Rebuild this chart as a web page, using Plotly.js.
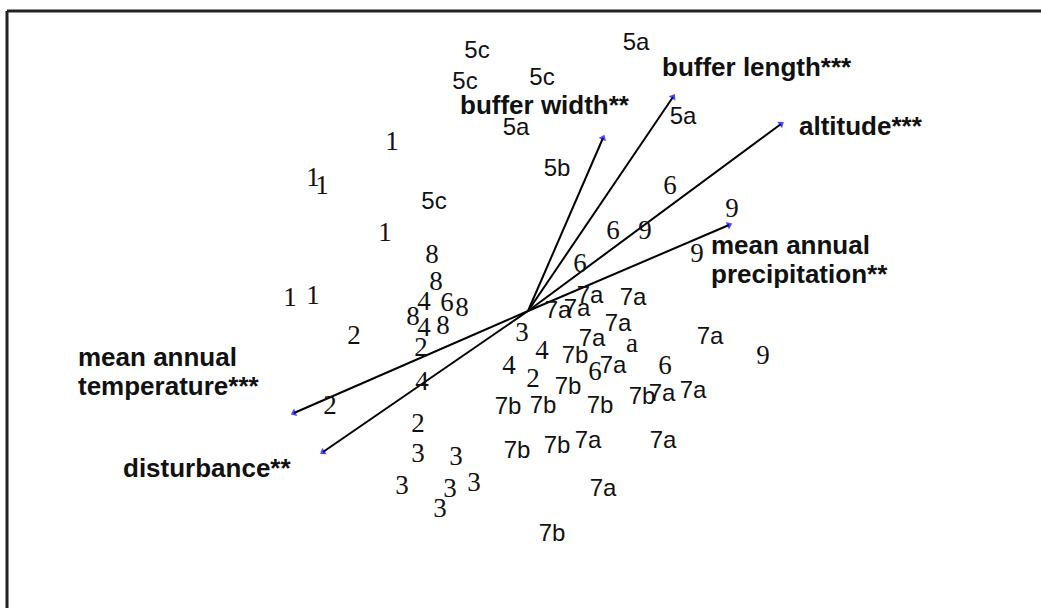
<!DOCTYPE html>
<html>
<head>
<meta charset="utf-8">
<script src="https://cdn.plot.ly/plotly-3.0.1.min.js"></script>
<style>html,body{margin:0;padding:0;background:#fff;}#chart{width:1041px;height:608px;}</style>
</head>
<body>
<div id="chart"></div>
<script>
// Site scores (ordination axes 1 and 2) with their group labels
const siteLabels = ["5c","5c","5c","5c","5a","5a","5a","5b",
  "1","1","1","1","1","1","2","8","8","4","6","8","8","4","8","2","4","2","2",
  "3","3","3","3","3","3","3","4","4","2","6","6","9","6","9","9","9","6","6","a",
  "7a","7a","7a","7a","7a","7a","7a","7a","7a","7a","7a","7a","7a",
  "7b","7b","7b","7b","7b","7b","7b","7b","7b"];
const siteX = [-0.51,-0.63,0.14,-0.94,1.08,-0.12,1.55,0.29,
  -1.36,-2.15,-2.06,-1.43,-2.38,-2.15,-1.74,-0.96,-0.92,-1.04,-0.81,-0.66,-1.15,-1.04,-0.85,-1.07,-1.06,-1.98,-1.10,
  -1.10,-0.72,-1.26,-0.78,-0.54,-0.88,-0.06,0.14,-0.19,0.05,0.52,0.85,1.17,1.42,2.04,1.69,2.35,0.67,1.37,1.04,
  0.62,1.05,0.30,0.49,0.90,0.64,1.82,0.85,1.34,1.65,0.60,1.35,0.75,
  0.47,0.40,-0.20,0.15,0.72,1.14,-0.11,0.29,0.24];
const siteY = [2.59,2.28,2.32,1.08,2.67,1.82,1.93,1.41,
  1.68,1.32,1.24,0.77,0.12,0.14,-0.26,0.55,0.28,0.08,0.07,0.02,-0.07,-0.18,-0.16,-0.38,-0.72,-0.96,-1.14,
  -1.44,-1.47,-1.76,-1.79,-1.73,-1.99,-0.23,-0.41,-0.56,-0.69,0.46,0.79,0.79,1.24,1.01,0.56,-0.46,-0.62,-0.56,-0.34,
  0.14,0.12,-0.01,0.01,-0.14,-0.29,-0.27,-0.56,-0.84,-0.81,-1.31,-1.31,-1.79,
  -0.46,-0.77,-0.97,-0.96,-0.96,-0.87,-1.41,-1.36,-2.24];

// Environmental vectors (arrow tips)
const varNames = ["buffer width**","buffer length***","altitude***",
  "mean annual<br>precipitation**","mean annual<br>temperature***","disturbance**"];
const varX = [0.75,1.45,2.53,2.01,-2.34,-2.05];
const varY = [1.73,2.14,1.87,0.86,-1.02,-1.41];

// label placement (layout only): left edge and first-line centre
const labelPos = [[-0.70,2.06],[1.32,2.44],[2.69,1.85],[1.81,0.66],[-4.52,-0.46],[-4.07,-1.57]];
const lineStep = 0.29;

const traces = [];
for (let i = 0; i < varNames.length; i++) {
  traces.push({
    x: [0, varX[i]], y: [0, varY[i]],
    mode: 'lines+markers', type: 'scatter', hoverinfo: 'skip',
    line: {color: '#000', width: 2},
    marker: {symbol: 'triangle-up', angleref: 'previous', size: [0, 7], color: '#0000ff', line: {width: 0}}
  });
}
const serif = "'Liberation Serif', 'Times New Roman', serif";
const sans = "'Liberation Sans Narrow', 'Liberation Sans', Arial, sans-serif";
traces.push({
  x: siteX, y: siteY, text: siteLabels, mode: 'text', type: 'scatter', hoverinfo: 'skip',
  textposition: 'middle center',
  textfont: {
    family: siteLabels.map(s => s.length === 1 ? serif : sans),
    size: siteLabels.map(s => s.length === 1 ? 27 : 24),
    color: '#111'
  }
});

const annotations = [];
varNames.forEach((n, i) => {
  n.split('<br>').forEach((line, k) => {
    annotations.push({
      x: labelPos[i][0], y: labelPos[i][1] - k * lineStep, xref: 'x', yref: 'y',
      text: '<b>' + line + '</b>', showarrow: false, xanchor: 'left', yanchor: 'middle', align: 'left',
      font: {family: "'Liberation Sans', Arial, sans-serif", size: 26, color: '#111'}
    });
  });
});

const layout = {
  width: 1041, height: 608,
  margin: {l: 0, r: 0, t: 0, b: 0},
  paper_bgcolor: '#fff', plot_bgcolor: '#fff',
  showlegend: false,
  xaxis: {range: [-5.28, 5.13], visible: false, fixedrange: true},
  yaxis: {range: [-2.97, 3.11], visible: false, fixedrange: true},
  annotations: annotations,
  shapes: [
    {type: 'line', xref: 'paper', yref: 'paper', x0: 7/1041, x1: 1.05, y0: 1 - 11/608, y1: 1 - 11/608, line: {color: '#222', width: 3}},
    {type: 'line', xref: 'paper', yref: 'paper', x0: 7/1041, x1: 7/1041, y0: -0.05, y1: 1 - 11/608, line: {color: '#222', width: 3}}
  ]
};
Plotly.newPlot('chart', traces, layout, {displayModeBar: false, staticPlot: true});
</script>
</body>
</html>
